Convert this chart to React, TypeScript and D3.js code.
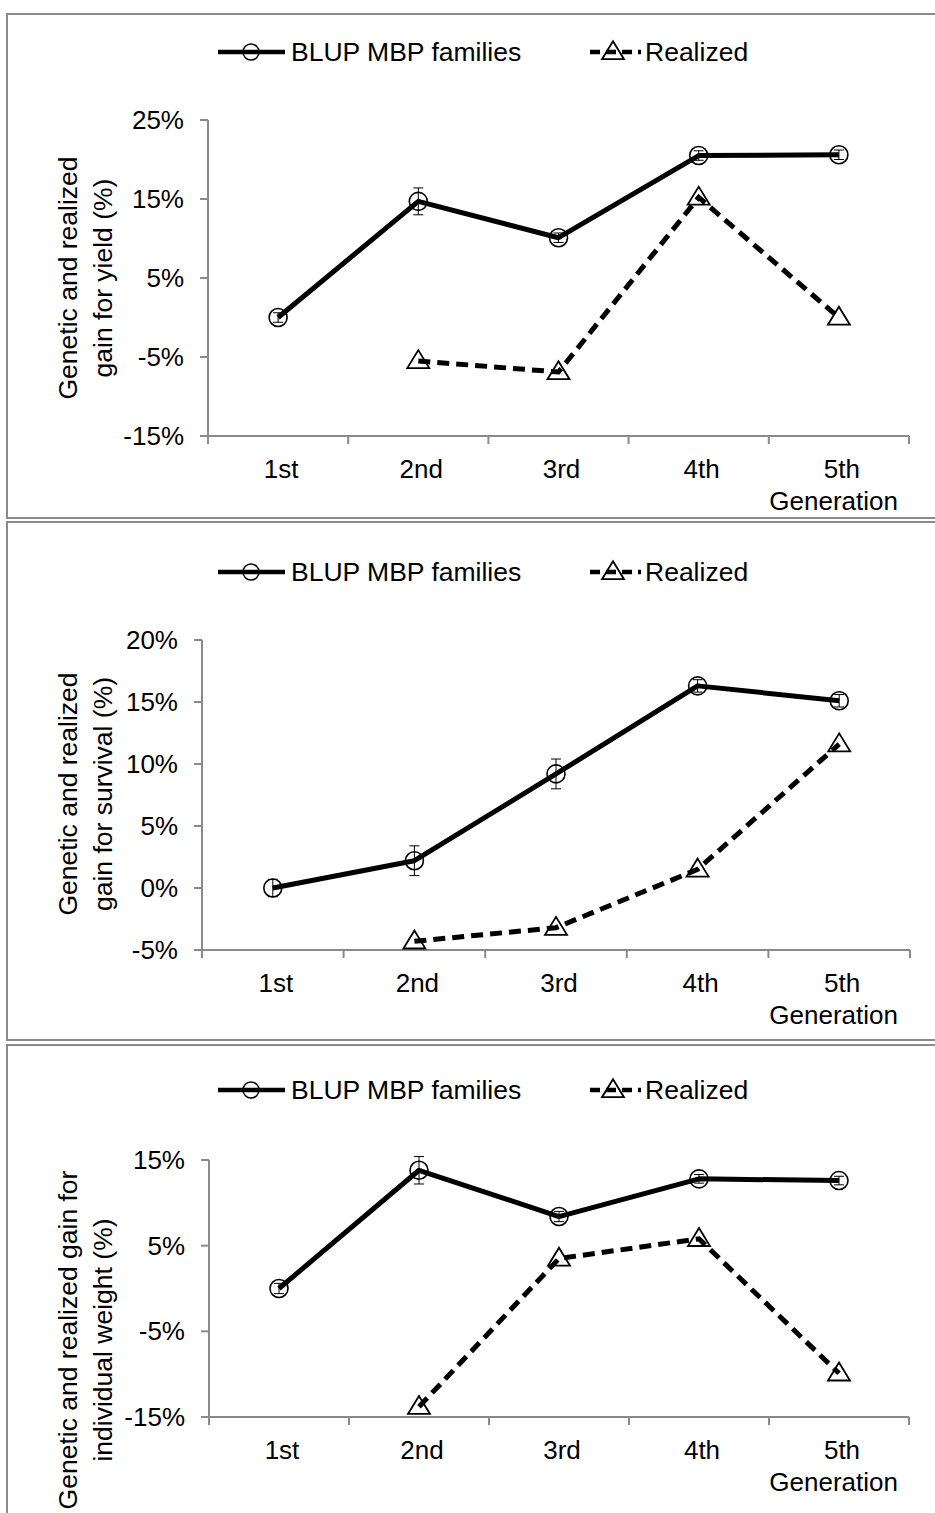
import React from 'react';
import * as d3 from 'd3';

const categories = ['1st', '2nd', '3rd', '4th', '5th'];
const legendLabels = ['BLUP MBP families', 'Realized'];
const xAxisTitle = 'Generation';

const yieldBlup = [0, 14.7, 10.1, 20.5, 20.6];
const yieldBlupErr = [0.6, 1.7, 0.6, 0.6, 0.6];
const yieldRealized: (number | null)[] = [null, -5.5, -6.9, 15.2, 0];
const yieldTicks = [-15, -5, 5, 15, 25];
const yieldTitle = ['Genetic and realized', 'gain for yield (%)'];

const survivalBlup = [0, 2.2, 9.2, 16.3, 15.1];
const survivalBlupErr = [0.7, 1.2, 1.2, 0.5, 0.5];
const survivalRealized: (number | null)[] = [null, -4.3, -3.2, 1.5, 11.6];
const survivalTicks = [-5, 0, 5, 10, 15, 20];
const survivalTitle = ['Genetic and realized', 'gain for survival (%)'];

const weightBlup = [0, 13.8, 8.4, 12.8, 12.6];
const weightBlupErr = [0.6, 1.6, 0.6, 0.5, 0.5];
const weightRealized: (number | null)[] = [null, -13.8, 3.5, 5.8, -9.9];
const weightTicks = [-15, -5, 5, 15];
const weightTitle = ['Genetic and realized gain for', 'individual weight (%)'];

const FONT = '"Liberation Sans", Arial, Helvetica, sans-serif';
const AXIS = '#8a8a8a';
const FS = 26;

type PanelProps = {
  frameTop: number; frameBottom: number;
  left: number; right: number; top: number; bottom: number;
  legendY: number; titleY: number; catY: number; genY: number;
  blup: number[]; err: number[]; realized: (number | null)[];
  ticks: number[]; title: string[];
};

function Triangle({ x, y }: { x: number; y: number }) {
  const w = 11, h = 18;
  return (
    <path
      d={`M${x},${y - h * 0.6}L${x + w},${y + h * 0.4}L${x - w},${y + h * 0.4}Z`}
      fill="none" stroke="#000" strokeWidth={1.8} strokeLinejoin="miter"
    />
  );
}

function Panel(p: PanelProps) {
  const y = d3.scaleLinear()
    .domain([d3.min(p.ticks) as number, d3.max(p.ticks) as number])
    .range([p.bottom, p.top]);
  const x = d3.scaleBand<string>().domain(categories).range([p.left, p.right]);
  const cx = (c: string) => (x(c) as number) + x.bandwidth() / 2;
  const blupPts = categories.map((c, i) => [cx(c), y(p.blup[i])] as [number, number]);
  const realPts = categories
    .map((c, i) => (p.realized[i] == null ? null : ([cx(c), y(p.realized[i] as number)] as [number, number])))
    .filter((d) => d != null) as [number, number][];
  const line = d3.line();
  const boundaries = [...categories.map((c) => x(c) as number), p.right];
  const ly = p.legendY;
  return (
    <g>
      <rect x={7} y={p.frameTop} width={940} height={p.frameBottom - p.frameTop}
        fill="none" stroke={AXIS} strokeWidth={2} />
      {/* legend */}
      <line x1={218} x2={285} y1={ly} y2={ly} stroke="#000" strokeWidth={4.5} />
      <circle cx={251} cy={ly} r={8} fill="none" stroke="#000" strokeWidth={1.5} />
      <text x={291} y={ly} dominantBaseline="central" fontSize={FS + 0.5} fontFamily={FONT}>{legendLabels[0]}</text>
      <line x1={590} x2={641} y1={ly} y2={ly} stroke="#000" strokeWidth={4.5} strokeDasharray="10,6" />
      <Triangle x={613} y={ly} />
      <text x={645} y={ly} dominantBaseline="central" fontSize={FS + 0.5} fontFamily={FONT}>{legendLabels[1]}</text>
      {/* y axis */}
      <line x1={p.left} x2={p.left} y1={p.top} y2={p.bottom} stroke={AXIS} strokeWidth={2} />
      {p.ticks.map((t) => (
        <g key={t}>
          <line x1={p.left - 8} x2={p.left} y1={y(t)} y2={y(t)} stroke={AXIS} strokeWidth={2} />
          <text x={p.left - 24} y={y(t)} textAnchor="end" dominantBaseline="central"
            fontSize={FS} fontFamily={FONT}>{`${t}%`}</text>
        </g>
      ))}
      {/* x axis */}
      <line x1={p.left} x2={p.right} y1={p.bottom} y2={p.bottom} stroke={AXIS} strokeWidth={2} />
      {boundaries.map((b, i) => (
        <line key={i} x1={b} x2={b} y1={p.bottom} y2={p.bottom + 8} stroke={AXIS} strokeWidth={2} />
      ))}
      {categories.map((c) => (
        <text key={c} x={cx(c) + 3} y={p.catY} textAnchor="middle" dominantBaseline="central"
          fontSize={FS} fontFamily={FONT}>{c}</text>
      ))}
      <text x={898} y={p.genY} textAnchor="end" dominantBaseline="central"
        fontSize={FS} fontFamily={FONT}>{xAxisTitle}</text>
      {/* y title */}
      {p.title.map((t, i) => (
        <text key={i} transform={`translate(${68 + i * 35},${p.titleY}) rotate(-90)`}
          textAnchor="middle" dominantBaseline="central" fontSize={26.5} fontFamily={FONT}>{t}</text>
      ))}
      {/* series */}
      <path d={line(blupPts) as string} fill="none" stroke="#000" strokeWidth={5} strokeLinejoin="round" />
      <path d={line(realPts) as string} fill="none" stroke="#000" strokeWidth={5} strokeDasharray="12,7" />
      {categories.map((c, i) => {
        const yc = y(p.blup[i]);
        const y1 = y(p.blup[i] + p.err[i]);
        const y2 = y(p.blup[i] - p.err[i]);
        return (
          <g key={c}>
            <line x1={cx(c)} x2={cx(c)} y1={y1} y2={y2} stroke="#000" strokeWidth={1} />
            <line x1={cx(c) - 5} x2={cx(c) + 5} y1={y1} y2={y1} stroke="#000" strokeWidth={1} />
            <line x1={cx(c) - 5} x2={cx(c) + 5} y1={y2} y2={y2} stroke="#000" strokeWidth={1} />
            <circle cx={cx(c)} cy={yc} r={9} fill="none" stroke="#000" strokeWidth={1.6} />
          </g>
        );
      })}
      {realPts.map((pt, i) => <Triangle key={i} x={pt[0]} y={pt[1]} />)}
    </g>
  );
}

export default function App() {
  return (
    <div style={{ position: 'absolute', left: 0, top: 0 }}>
      <svg width={935} height={1513} style={{ display: 'block', background: '#fff' }}>
        <Panel frameTop={14} frameBottom={518} left={208} right={909} top={120} bottom={436}
          legendY={52} titleY={278} catY={469} genY={501}
          blup={yieldBlup} err={yieldBlupErr} realized={yieldRealized} ticks={yieldTicks} title={yieldTitle} />
        <Panel frameTop={522} frameBottom={1040} left={202} right={910} top={640} bottom={950}
          legendY={572} titleY={794} catY={983} genY={1015}
          blup={survivalBlup} err={survivalBlupErr} realized={survivalRealized} ticks={survivalTicks} title={survivalTitle} />
        <Panel frameTop={1045} frameBottom={1540} left={209} right={909} top={1160} bottom={1417}
          legendY={1090} titleY={1340} catY={1450} genY={1482}
          blup={weightBlup} err={weightBlupErr} realized={weightRealized} ticks={weightTicks} title={weightTitle} />
      </svg>
    </div>
  );
}
